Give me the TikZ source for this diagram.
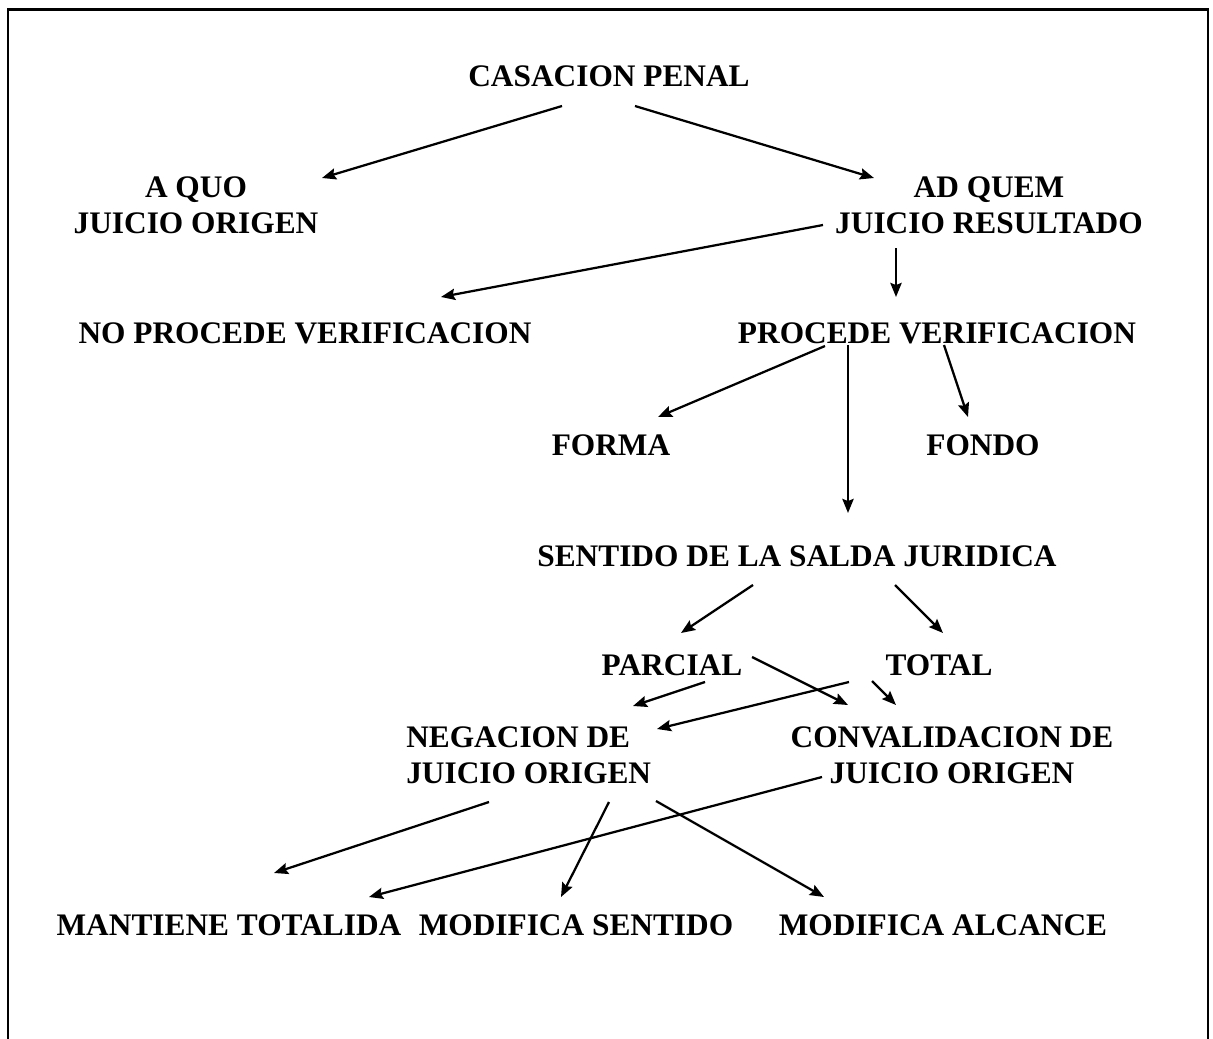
\documentclass[tikz,border=0pt]{standalone}
\usepackage{fontspec}
\setmainfont{Liberation Serif}
\usetikzlibrary{arrows.meta}
\tikzset{
  caja/.style={font=\bfseries\fontsize{22.3}{25.6}\selectfont, inner sep=0pt, align=center},
  flecha/.style={->, line width=1.6pt}
}
\begin{document}
\begin{tikzpicture}[x=0.025cm, y=-0.025cm, >={Stealth[length=10pt,width=8pt,inset=1.5pt]}]
    %tikz casacion
    \useasboundingbox (0,0) rectangle (1213,1039);
    \draw[line width=1.6pt] (8,1050) -- (8,9.5) -- (1208,9.5) -- (1208,1050);

\node[caja, anchor=base] (cas) at (609,87) {CASACION PENAL};
\node[caja, anchor=north] (aquo) at (196,176) {A QUO\\JUICIO ORIGEN};
\node[caja, anchor=north] (adquem) at (989,176) {AD QUEM\\JUICIO RESULTADO};
\node[caja, anchor=base] (noproc) at (305,343) {NO PROCEDE VERIFICACION};
\node[caja, anchor=base] (proc) at (937,343) {PROCEDE VERIFICACION};
\node[caja, anchor=base] (forma) at (611,455) {FORMA};
\node[caja, anchor=base] (fondo) at (983,455) {FONDO};
\node[caja, anchor=base] (sentido) at (797,566) {SENTIDO DE LA SALDA JURIDICA};
\node[caja, anchor=base] (parcial) at (672,675) {PARCIAL};
\node[caja, anchor=base] (total) at (939,675) {TOTAL};
\node[caja, align=left, anchor=north west] (negacion) at (406,726) {NEGACION DE\\JUICIO ORIGEN};
\node[caja, anchor=north] (conval) at (952,726) {CONVALIDACION DE\\JUICIO ORIGEN};
\node[caja, anchor=base] (mantiene) at (229,935) {MANTIENE TOTALIDA};
\node[caja, anchor=base] (modsent) at (576,935) {MODIFICA SENTIDO};
\node[caja, anchor=base] (modalc) at (943,935) {MODIFICA ALCANCE};

            \draw[flecha] ([shift={(-47,19)}]cas.base) -- ([shift={(126,2)}]aquo.north);
            \draw[flecha] ([shift={(26,19)}]cas.base) -- ([shift={(-115,2)}]adquem.north);
            \draw[flecha] ([shift={(-166,49)}]adquem.north) -- ([shift={(136,-46)}]noproc.base);
            \draw[flecha] ([shift={(-93,72)}]adquem.north) -- ([shift={(-41,-46)}]proc.base);
            \draw[flecha] ([shift={(-112,3)}]proc.base) -- ([shift={(47,-38)}]forma.base);
            \draw[flecha] ([shift={(-89,2)}]proc.base) -- ([shift={(51,-53)}]sentido.base);
            \draw[flecha] ([shift={(7,2)}]proc.base) -- ([shift={(-15,-38)}]fondo.base);
            \draw[flecha] ([shift={(-44,19)}]sentido.base) -- ([shift={(9,-42)}]parcial.base);
            \draw[flecha] ([shift={(98,19)}]sentido.base) -- ([shift={(4,-42)}]total.base);
            \draw[flecha] ([shift={(33,7)}]parcial.base) -- ([shift={(227,-20)}]negacion.north west);
            \draw[flecha] ([shift={(80,-18)}]parcial.base) -- ([shift={(-104,-21)}]conval.north);
            \draw[flecha] ([shift={(-90,7)}]total.base) -- ([shift={(251,3)}]negacion.north west);
            \draw[flecha] ([shift={(-67,6)}]total.base) -- ([shift={(-56,-21)}]conval.north);
            \draw[flecha] ([shift={(83,76)}]negacion.north west) -- ([shift={(45,-62)}]mantiene.base);
            \draw[flecha] ([shift={(203,76)}]negacion.north west) -- ([shift={(-15,-38)}]modsent.base);
            \draw[flecha] ([shift={(250,75)}]negacion.north west) -- ([shift={(-119,-38)}]modalc.base);
            \draw[flecha] ([shift={(-130,51)}]conval.north) -- ([shift={(140,-38)}]mantiene.base);
  \end{tikzpicture}
\end{document}
